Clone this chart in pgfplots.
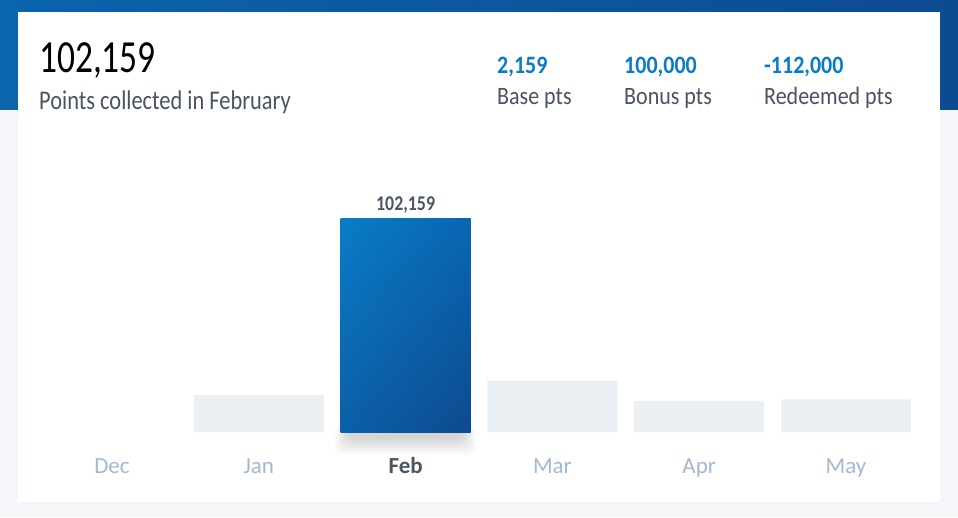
\documentclass[border=0pt]{standalone}
\usepackage{fontspec}
\setmainfont{Carlito}
\usepackage{pgfplots}
\pgfplotsset{compat=1.18}
\usetikzlibrary{shadings}
\newfontfamily\fbig[FakeStretch=0.77]{Carlito}
\newfontfamily\fsub[FakeStretch=0.83]{Carlito}
\newfontfamily\fstat[FakeStretch=0.88]{Carlito}
\newfontfamily\fbar[FakeStretch=0.85]{Carlito}
\definecolor{bg}{HTML}{F4F6FA}
\definecolor{hdrL}{HTML}{0A64AE}
\definecolor{hdrR}{HTML}{0D4B91}
\definecolor{txtdark}{HTML}{4A5363}
\definecolor{statblue}{HTML}{0A7BC8}
\definecolor{monthc}{HTML}{A3B9D3}
\definecolor{febc}{HTML}{4B5565}
\definecolor{graybar}{HTML}{EBF0F5}
\definecolor{barUL}{HTML}{0A7CC6}
\definecolor{barUR}{HTML}{0966B2}
\definecolor{barLL}{HTML}{0B5FA8}
\definecolor{barLR}{HTML}{0E4A8E}
\begin{document}
\begin{tikzpicture}[x=1pt,y=1pt]
\useasboundingbox (0,0) rectangle (958,517);
\clip (0,0) rectangle (958,517);
\fill[bg] (0,0) rectangle (958,517);
\shade[left color=hdrL, right color=hdrR] (0,407) rectangle (958,517);
\fill[white] (18,15) rectangle (940,505);
% soft shadow under highlighted bar
\foreach \i in {1,...,14} {
  \fill[black, opacity=0.011, rounded corners=8pt] (350-1.1*\i,100-0.6*\i) rectangle (461+1.1*\i,80-1.3*\i);
}
% header texts
\node[anchor=base west, inner sep=0, text=black] at (39,444) {\fbig\fontsize{46}{46}\selectfont 102,159};
\node[anchor=base west, inner sep=0, text=txtdark] at (39,407) {\fsub\fontsize{27}{27}\selectfont Points collected in February};
\node[anchor=base west, inner sep=0, text=statblue] at (497,443) {\fstat\bfseries\fontsize{25}{25}\selectfont 2,159};
\node[anchor=base west, inner sep=0, text=statblue] at (624,443) {\fstat\bfseries\fontsize{25}{25}\selectfont 100,000};
\node[anchor=base west, inner sep=0, text=statblue] at (764,443) {\fstat\bfseries\fontsize{25}{25}\selectfont -112,000};
\node[anchor=base west, inner sep=0, text=txtdark] at (497,412) {\fstat\fontsize{25}{25}\selectfont Base pts};
\node[anchor=base west, inner sep=0, text=txtdark] at (624,412) {\fstat\fontsize{25}{25}\selectfont Bonus pts};
\node[anchor=base west, inner sep=0, text=txtdark] at (764,412) {\fstat\fontsize{25}{25}\selectfont Redeemed pts};
\begin{axis}[
  at={(38.6pt,85pt)}, anchor=south west,
  scale only axis, width=880.8pt, height=282pt,
  xmin=-0.5, xmax=5.5, ymin=0, ymax=135250,
  clip=false,
  axis line style={draw=none},
  major tick length=0pt,
  ymajorticks=false,
  xtick={0,1,2,3,4,5},
  xticklabels={Dec,Jan,{\color{febc}\bfseries Feb},Mar,Apr,May},
  xticklabel style={anchor=base, yshift=-41pt, text=monthc, font=\fontsize{23}{23}\selectfont},
]
\addplot[ybar, bar width=130pt, bar shift=0pt, draw=none, fill=graybar]
  coordinates {(1,17700) (3,24600) (4,14900) (5,15600)};
\addplot[ybar, bar width=130pt, bar shift=0pt, draw=none,
  shading=bilinear interpolation,
  upper left=barUL, upper right=barUR, lower left=barLL, lower right=barLR,
  point meta=explicit symbolic,
  nodes near coords,
  every node near coord/.append style={anchor=base, yshift=8pt, text=febc, font=\fbar\bfseries\fontsize{21}{21}\selectfont}]
  coordinates {(2,102159) [102,159]};
\end{axis}
\end{tikzpicture}
\end{document}
